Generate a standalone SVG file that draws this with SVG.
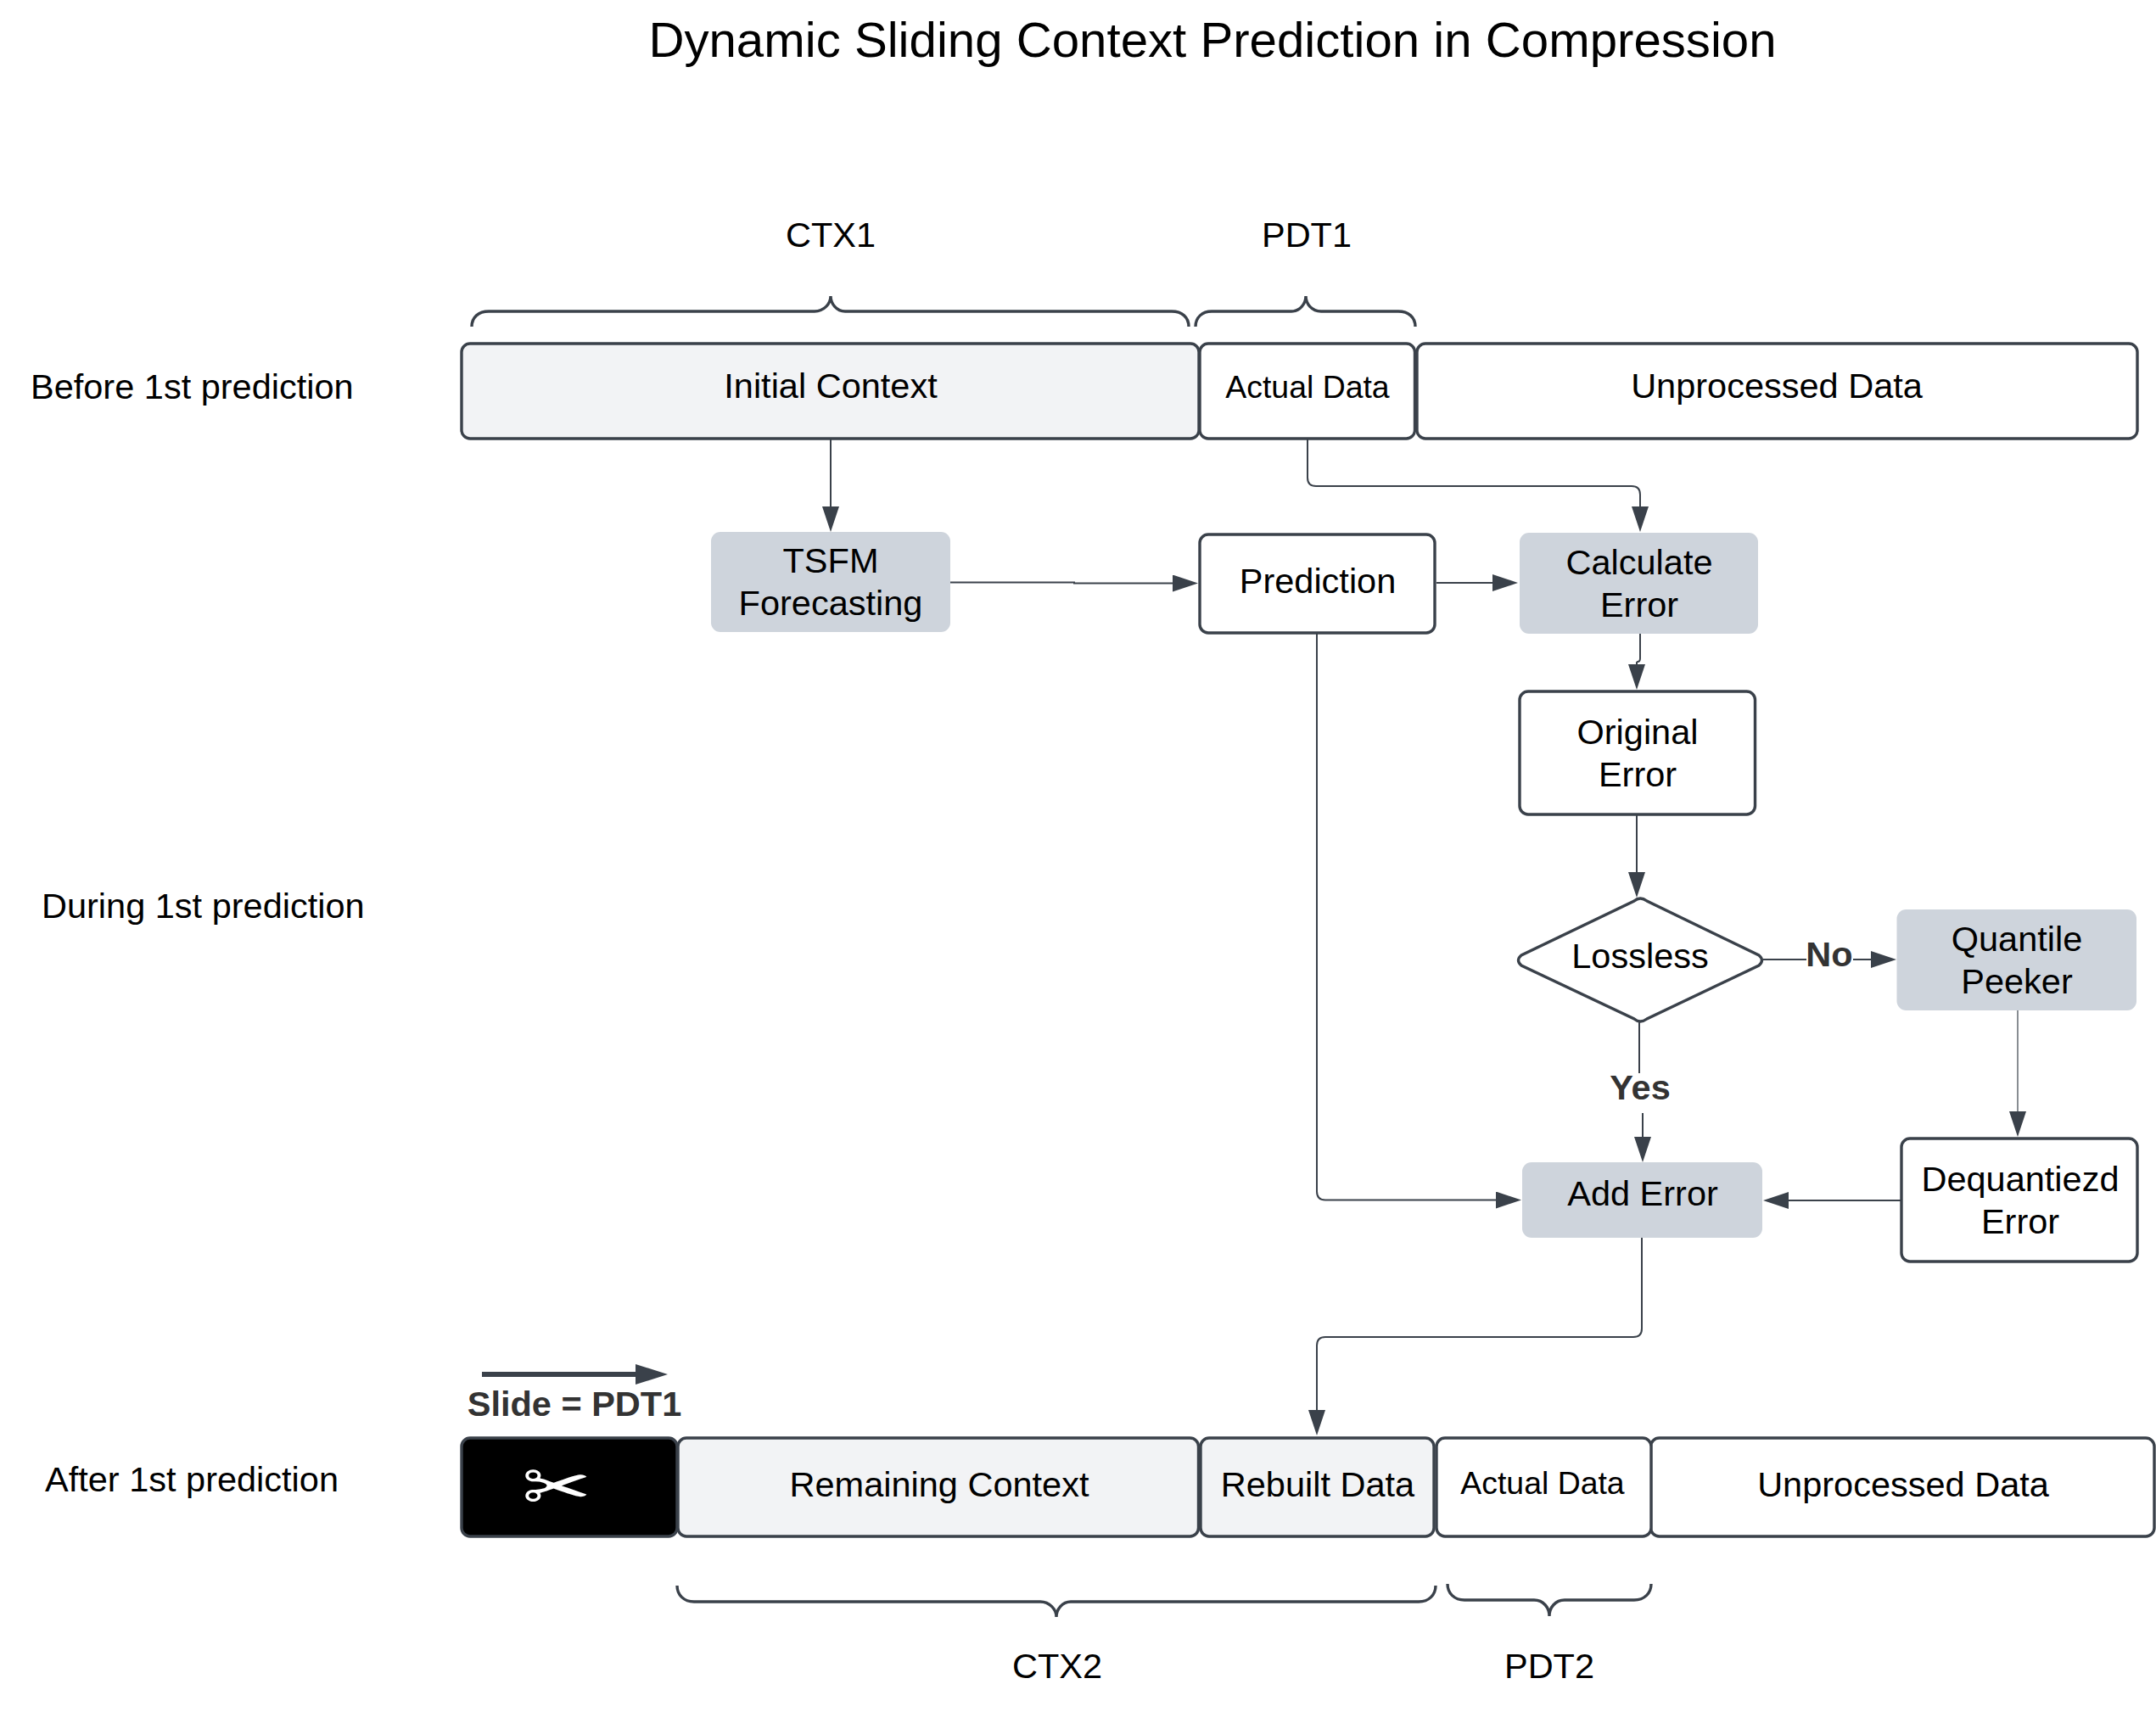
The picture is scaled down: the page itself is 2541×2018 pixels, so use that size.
<svg xmlns="http://www.w3.org/2000/svg" width="2541" height="2018" viewBox="0 0 2541 2018">
<style>
text{font-family:"Liberation Sans",Arial,sans-serif;font-size:41.5px;fill:#000;text-anchor:middle}
.box{stroke:#3a414a;stroke-width:3.4;fill:#fff}
.light{fill:#f2f3f5}
.grey{fill:#ced4dc;stroke:none}
.small{font-size:37.4px}
.bold{font-weight:700;fill:#333}
.start{text-anchor:start}
.conn{fill:none;stroke:#3a414a;stroke-width:2}
.brace{fill:none;stroke:#3a414a;stroke-width:3.4}
</style>
<defs>
<marker id="head" markerUnits="userSpaceOnUse" markerWidth="30" markerHeight="20" refX="25" refY="10" orient="auto"><path d="M0 0L30 10L0 20Z" fill="#3a414a"/></marker>
<marker id="bighead" markerUnits="userSpaceOnUse" markerWidth="38" markerHeight="24" refX="2" refY="12" orient="auto"><path d="M0 0L38 12L0 24Z" fill="#3a414a"/></marker>
</defs>
<rect width="2541" height="2018" fill="#fff"/>
<g id="title"><text x="1429" y="67" style="font-size:58.2px">Dynamic Sliding Context Prediction in Compression</text></g>
<g id="row-labels">
<text class="start" x="36" y="470">Before 1st prediction</text>
<text class="start" x="49" y="1082">During 1st prediction</text>
<text class="start" x="53" y="1758">After 1st prediction</text>
</g>
<g id="braces">
<path class="brace" d="M556 385C556 374 564 367 576 367H960C971 367 979 358 979 349C979 358 986 367 996 367H1381C1393 367 1401 374 1401 385"/>
<path class="brace" d="M1409 385C1409 374 1417 367 1428 367H1522C1532 367 1539 358 1539 349C1539 358 1546 367 1557 367H1648C1660 367 1668 374 1668 385"/>
<path class="brace" d="M798 1869C798 1880 806 1888 818 1888H1226C1237 1888 1245 1897 1245 1906C1245 1897 1252 1888 1262 1888H1672C1684 1888 1692 1880 1692 1869"/>
<path class="brace" d="M1706 1867C1706 1878 1714 1886 1726 1886H1808C1819 1886 1826 1895 1826 1905C1826 1895 1833 1886 1844 1886H1926C1938 1886 1946 1878 1946 1867"/>
<text x="979" y="291">CTX1</text>
<text x="1540" y="291">PDT1</text>
<text x="1246" y="1978">CTX2</text>
<text x="1826" y="1978">PDT2</text>
</g>
<g id="connectors">
<path class="conn" marker-end="url(#head)" d="M979 517V622"/>
<path class="conn" marker-end="url(#head)" d="M1120 686.500H1266V687.500H1407"/>
<path class="conn" marker-end="url(#head)" d="M1693 687H1784"/>
<path class="conn" marker-end="url(#head)" d="M1541 517V563Q1541 573 1551 573H1923Q1933 573 1933 583V622"/>
<path class="conn" marker-end="url(#head)" d="M1933 747V776Q1933 780 1930 780L1929 781V808"/>
<path class="conn" marker-end="url(#head)" d="M1929 960V1053"/>
<path class="conn" d="M2078 1131H2129"/>
<path class="conn" marker-end="url(#head)" d="M2184 1131H2230"/>
<path class="conn" d="M1932 1205V1265"/>
<path class="conn" marker-end="url(#head)" d="M1936 1312V1365"/>
<path class="conn" style="stroke-width:1.2" marker-end="url(#head)" d="M2378 1191V1335"/>
<path class="conn" marker-end="url(#head)" d="M2241 1415H2083"/>
<path class="conn" marker-end="url(#head)" d="M1552 747V1404.500Q1552 1414.500 1562 1414.500H1788"/>
<path class="conn" marker-end="url(#head)" d="M1935 1459V1566Q1935 1576 1925 1576H1562Q1552 1576 1552 1586V1687"/>
<path class="conn" style="stroke-width:6" marker-end="url(#bighead)" d="M568 1620H751"/>
</g>
<g id="initial-context"><rect class="box light" x="544" y="405" width="869" height="112" rx="10"/><text x="979" y="469">Initial Context</text></g>
<g id="actual-data-1"><rect class="box" x="1414" y="405" width="253.500" height="112" rx="10"/><text class="small" x="1541" y="468.500">Actual Data</text></g>
<g id="unprocessed-1"><rect class="box" x="1670" y="405" width="849" height="112" rx="10"/><text x="2094" y="469">Unprocessed Data</text></g>
<g id="tsfm"><rect class="grey" x="838" y="627" width="282" height="118" rx="11"/><text x="979" y="675">TSFM</text><text x="979" y="725">Forecasting</text></g>
<g id="prediction"><rect class="box" x="1414" y="630" width="277" height="116" rx="10"/><text x="1553" y="698.500">Prediction</text></g>
<g id="calculate-error"><rect class="grey" x="1791" y="628" width="281" height="119" rx="11"/><text x="1932" y="677">Calculate</text><text x="1932" y="727">Error</text></g>
<g id="original-error"><rect class="box" x="1791" y="815" width="277.500" height="145" rx="10"/><text x="1930" y="877">Original</text><text x="1930" y="927">Error</text></g>
<g id="lossless"><path class="box" d="M1926 1062Q1933 1056 1941 1062L2073 1126Q2080 1132 2073 1138L1941 1201Q1933 1207 1926 1201L1793 1138Q1786 1132 1793 1126Z"/><text x="1933" y="1141">Lossless</text></g>
<g id="quantile-peeker"><rect class="grey" x="2235.500" y="1072" width="282.500" height="119" rx="11"/><text x="2377" y="1121">Quantile</text><text x="2377" y="1171">Peeker</text></g>
<g id="dequantized-error"><rect class="box" x="2241" y="1342" width="278" height="145" rx="10"/><text x="2381" y="1404">Dequantiezd</text><text x="2381" y="1454">Error</text></g>
<g id="add-error"><rect class="grey" x="1794" y="1370" width="283" height="89" rx="11"/><text x="1936" y="1420.500">Add Error</text></g>
<g id="edge-labels">
<text class="bold" x="2156" y="1139">No</text>
<text class="bold" x="1933" y="1296">Yes</text>
<text class="bold" x="677" y="1669">Slide = PDT1</text>
</g>
<g id="removed"><rect class="box" style="fill:#000" x="544" y="1695" width="254" height="116" rx="10"/><text x="656" y="1786" transform="translate(0 227.700) scale(1 .87)" style="font-family:'DejaVu Sans',sans-serif;fill:#fff;font-size:97px">✂</text></g>
<g id="remaining-context"><rect class="box light" x="799" y="1695" width="613.500" height="116" rx="10"/><text x="1107" y="1764">Remaining Context</text></g>
<g id="rebuilt-data"><rect class="box light" x="1415" y="1695" width="275" height="116" rx="10"/><text x="1553" y="1764">Rebuilt Data</text></g>
<g id="unprocessed-2"><rect class="box" x="1945.500" y="1695" width="593.500" height="116" rx="10"/><text x="2243" y="1764">Unprocessed Data</text></g>
<g id="actual-data-2"><rect class="box" x="1693" y="1695" width="253" height="116" rx="10"/><text class="small" x="1818" y="1761">Actual Data</text></g>
</svg>
